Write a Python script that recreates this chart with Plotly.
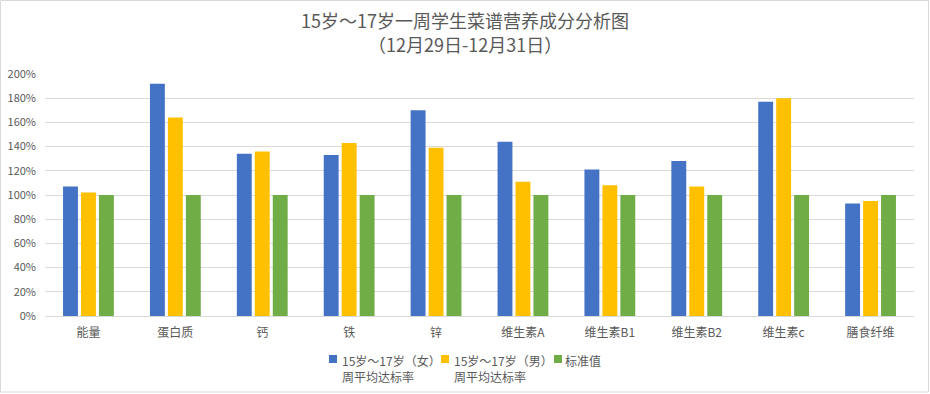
import plotly.graph_objects as go

categories = ["能量", "蛋白质", "钙", "铁", "锌", "维生素A", "维生素B1", "维生素B2", "维生素c", "膳食纤维"]
female = [1.07, 1.92, 1.34, 1.33, 1.70, 1.44, 1.21, 1.28, 1.77, 0.93]
male = [1.02, 1.64, 1.36, 1.43, 1.39, 1.11, 1.08, 1.07, 1.80, 0.95]
standard = [1.00, 1.00, 1.00, 1.00, 1.00, 1.00, 1.00, 1.00, 1.00, 1.00]

series_names = ["15岁～17岁（女）<br>周平均达标率", "15岁～17岁（男）<br>周平均达标率", "标准值"]
colors = ["#4472C4", "#FFC000", "#70AD47"]
title_line1 = "15岁～17岁一周学生菜谱营养成分分析图"
title_line2 = "（12月29日-12月31日）"

W, H = 930, 394
ml, mr, mt, mb = 45, 16, 74, 78
pw, ph = W - ml - mr, H - mt - mb

font_family = "Noto Sans CJK SC, Noto Sans, sans-serif"
txt = "#595959"


def px_x(p):
    return (p - ml) / pw


def px_y(p):
    return (H - mb - p) / ph


fig = go.Figure()
for name, vals, c in zip(series_names, [female, male, standard], colors):
    fig.add_trace(go.Bar(x=categories, y=vals, name=name, showlegend=False,
                         marker=dict(color=c, line=dict(width=0))))

fig.update_layout(
    width=W, height=H,
    margin=dict(l=ml, r=mr, t=mt, b=mb, autoexpand=False),
    paper_bgcolor="white", plot_bgcolor="white",
    font=dict(family=font_family, color=txt, size=12),
    barmode="group", bargap=0.38, bargroupgap=0.17,
    showlegend=False,
    xaxis=dict(showline=True, linecolor="#D9D9D9", linewidth=1, ticks="",
               tickfont=dict(size=12, color=txt), showgrid=False, ticklabelstandoff=6),
    yaxis=dict(range=[0, 2.0], dtick=0.2, tickformat=".0%", showgrid=True,
               gridcolor="#D9D9D9", gridwidth=1, zeroline=False, showline=False,
               tickfont=dict(size=11, color=txt), ticks="", ticklabelstandoff=8),
)

# title (two lines as separate texts)
fig.add_annotation(text=title_line1, xref="paper", yref="paper", x=px_x(W / 2), y=px_y(20),
                   xanchor="center", yanchor="middle", showarrow=False, borderpad=0,
                   font=dict(size=18, color=txt, family=font_family))
fig.add_annotation(text=title_line2, xref="paper", yref="paper", x=px_x(W / 2), y=px_y(44),
                   xanchor="center", yanchor="middle", showarrow=False, borderpad=0,
                   font=dict(size=18, color=txt, family=font_family))

# manual legend (squares + text) positioned in pixel coordinates
leg_sq_x = [329, 441, 554]
leg_tx_x = [341, 453, 564]
sq_top, sq_size = 355, 8
for name, c, sx, tx in zip(series_names, colors, leg_sq_x, leg_tx_x):
    fig.add_shape(type="rect", xref="paper", yref="paper",
                  x0=px_x(sx), x1=px_x(sx + sq_size), y0=px_y(sq_top + sq_size), y1=px_y(sq_top),
                  line=dict(width=0), fillcolor=c)
    fig.add_annotation(text=name, xref="paper", yref="paper", x=px_x(tx), y=px_y(351),
                       xanchor="left", yanchor="top", align="left", showarrow=False,
                       borderpad=0, font=dict(size=12, color=txt, family=font_family))

# chart border
fig.add_shape(type="rect", xref="paper", yref="paper",
              x0=px_x(0.5), x1=px_x(W - 1.5), y0=px_y(H - 2), y1=px_y(0.5),
              line=dict(color="#D9D9D9", width=1), fillcolor="rgba(0,0,0,0)", layer="below")

fig.write_html("out.html", config={"displayModeBar": False},
               post_script="document.body.style.margin='0';")
